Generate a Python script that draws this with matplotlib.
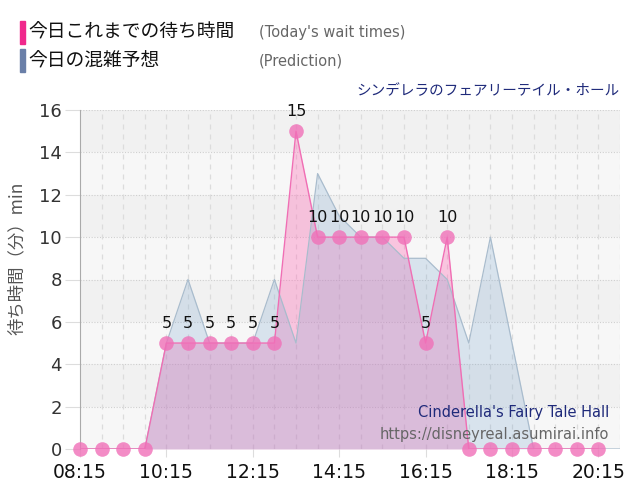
import matplotlib
matplotlib.use("Agg")
import matplotlib.pyplot as plt
from matplotlib.patches import Rectangle

plt.rcParams['font.family'] = ['DejaVu Sans', 'Noto Sans CJK JP']
JP = ['Noto Sans CJK JP', 'DejaVu Sans']

# ---- data ----
wait_times = ["08:15", "08:45", "09:15", "09:45", "10:15", "10:45", "11:15", "11:45",
              "12:15", "12:45", "13:15", "13:45", "14:15", "14:45", "15:15", "15:45",
              "16:15", "16:45", "17:15", "17:45", "18:15", "18:45", "19:15", "19:45", "20:15"]
wait_values = [0, 0, 0, 0, 5, 5, 5, 5, 5, 5, 15, 10, 10, 10, 10, 10, 5, 10, 0, 0, 0, 0, 0, 0, 0]

pred_times = wait_times + ["20:45"]
pred_values = [0, 0, 0, 0, 5, 8, 5, 5, 5, 8, 5, 13, 11, 10, 10, 9, 9, 8, 5, 10, 5, 0, 0, 0, 0, 0]

tick_labels = ["08:15", "10:15", "12:15", "14:15", "16:15", "18:15", "20:15"]
y_ticks = [0, 2, 4, 6, 8, 10, 12, 14, 16]

title_jp = "シンデレラのフェアリーテイル・ホール"
title_en = "Cinderella's Fairy Tale Hall"
site = "https://disneyreal.asumirai.info"
legend_items = [("今日これまでの待ち時間", "(Today's wait times)", "#f0288c"),
                ("今日の混雑予想", "(Prediction)", "#6a7fa8")]


def to_h(s):
    h, m = s.split(":")
    return int(h) + int(m) / 60.0


wx = [to_h(t) for t in wait_times]
px = [to_h(t) for t in pred_times]
tx = [to_h(t) for t in tick_labels]

fig = plt.figure(figsize=(6.4, 5.0), dpi=100)
fig.patch.set_facecolor("white")
ax = fig.add_axes([80 / 640, 51 / 500, 540 / 640, 339 / 500])
ax.set_xlim(px[0], px[-1])
ax.set_ylim(0, 16)
ax.set_facecolor("#f7f7f7")

# alternating bands
for y0 in range(0, 16, 2):
    if (y0 // 2) % 2 == 1:
        ax.axhspan(y0, y0 + 2, color="#f1f1f1", zorder=0, lw=0)

# grid
for y in y_ticks[1:]:
    ax.axhline(y, color="#cfcfcf", lw=0.8, ls=(0, (1, 1.5)), zorder=1)
for x in wx[1:] + [px[-1]]:
    ax.axvline(x, color="#dcdcdc", lw=0.9, ls=(0, (4, 4)), zorder=1)

# fills
ax.fill_between(wx, wait_values, 0, color="#ff69b4", alpha=0.35, lw=0, zorder=2)
ax.fill_between(px, pred_values, 0, color="#6e9dca", alpha=0.22, lw=0, zorder=3)
ax.plot(px, pred_values, color="#a9bccd", lw=0.9, zorder=4)
ax.plot(wx, wait_values, color="#f06eb4", lw=1.0, zorder=5)
ax.plot(wx, wait_values, ls="none", marker="o", ms=10.5, mfc="#f070b8", mec="none",
        alpha=0.8, zorder=6, clip_on=False)

for x, v in zip(wx, wait_values):
    if v > 0:
        ax.annotate(str(v), (x, v), xytext=(0, 8.5), textcoords="offset points",
                    ha="center", va="bottom", fontsize=11.5, color="#111111", zorder=7)

# axes styling
for s in ["top", "right", "bottom"]:
    ax.spines[s].set_visible(False)
ax.spines["left"].set_color("#aaaaaa")
ax.spines["left"].set_linewidth(0.8)
ax.set_xticks(tx)
ax.set_xticklabels(tick_labels, fontsize=13.5, color="#111111")
ax.set_yticks(y_ticks)
ax.set_yticklabels([str(v) for v in y_ticks], fontsize=13, color="#333333")
ax.tick_params(axis="y", length=11, color="#dddddd", pad=2)
ax.tick_params(axis="x", length=6, color="#dddddd", pad=4)
ax.set_ylabel("待ち時間（分）min", family=JP, fontsize=12.5, color="#555555")
ax.yaxis.set_label_coords(-0.1, 0.563)

ax.text(0.98, 0.108, title_en, transform=ax.transAxes, ha="right", va="center",
        fontsize=10.5, color="#1f2a7a", zorder=8)
ax.text(0.98, 0.044, site, transform=ax.transAxes, ha="right", va="center",
        fontsize=10.5, color="#666666", zorder=8)

# legend
for i, (jp, en, c) in enumerate(legend_items):
    yc = 1 - (32 + 28.5 * i) / 500
    fig.patches.append(Rectangle((20 / 640, yc - 11.5 / 500), 4.5 / 640, 23 / 500,
                                 transform=fig.transFigure, color=c))
    fig.text(28 / 640, yc, jp, family=JP, fontsize=13.5, color="#111111", va="center")
    fig.text(259 / 640, yc, en, fontsize=10.5, color="#666666", va="center")

fig.text(620 / 640, 1 - 91 / 500, title_jp, family=JP, fontsize=10.5, color="#1f2a7a",
         ha="right", va="center")

fig.savefig("out.png", dpi=100)
